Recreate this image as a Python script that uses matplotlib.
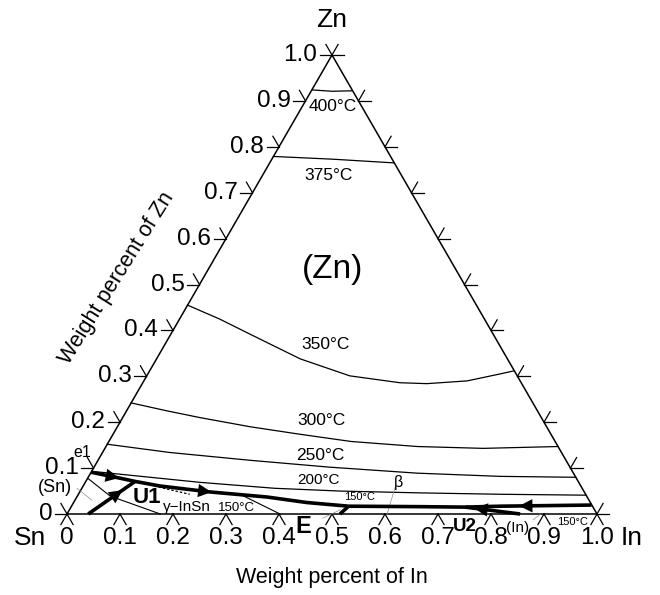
import numpy as np
import matplotlib.pyplot as plt

plt.rcParams['font.family'] = ['Liberation Sans', 'DejaVu Sans']

R3 = np.sqrt(3.)/2.

# ---- data: compositions as (In, Zn) weight fractions ----
TickVals = [0.0, 0.1, 0.2, 0.3, 0.4, 0.5, 0.6, 0.7, 0.8, 0.9, 1.0]
TickLbls = ['0', '0.1', '0.2', '0.3', '0.4', '0.5', '0.6', '0.7', '0.8', '0.9', '1.0']

Iso400 = [(0.0, 0.924), (0.039, 0.921), (0.077, 0.922)]
Iso375 = [(0.0, 0.779), (0.115, 0.773), (0.234, 0.765)]
Iso350 = [(0.0, 0.455), (0.075, 0.425), (0.149, 0.392), (0.271, 0.338),
          (0.383, 0.301), (0.485, 0.286), (0.537, 0.284), (0.610, 0.290),
          (0.664, 0.305), (0.688, 0.312)]
Iso300 = [(0.0, 0.242), (0.075, 0.225), (0.146, 0.210), (0.251, 0.190),
          (0.351, 0.174), (0.457, 0.158), (0.588, 0.147), (0.714, 0.143),
          (0.853, 0.147)]
Iso250 = [(0.0, 0.152), (0.127, 0.134), (0.287, 0.117), (0.445, 0.102),
          (0.616, 0.089), (0.776, 0.082), (0.920, 0.080)]
Iso200 = [(0.0, 0.093), (0.117, 0.080), (0.216, 0.069), (0.364, 0.056),
          (0.490, 0.050), (0.643, 0.046), (0.795, 0.043), (0.959, 0.041)]

# monovariant lines (thick)
E1_U1_E = [(0.0, 0.091), (0.061, 0.078), (0.093, 0.071), (0.145, 0.061),
           (0.246, 0.048), (0.359, 0.037), (0.440, 0.025), (0.523, 0.017)]
InZn_U2_E = [(0.980, 0.0195), (0.808, 0.017), (0.744, 0.015),
             (0.657, 0.016), (0.523, 0.017)]
Base_U1 = [(0.040, 0.0), (0.093, 0.071)]
Base_U2 = [(0.855, 0.0), (0.744, 0.015)]
Base_E = [(0.515, 0.0), (0.523, 0.017)]
U1_dash = [(0.125, 0.063), (0.210, 0.043)]

# phase boundaries (thin)
SnSolvus = [(0.0, 0.078), (0.062, 0.039), (0.176, 0.0)]
GammaBnd = [(0.305, 0.043), (0.402, 0.0)]

# leader lines (grey)
Leaders = [[(-0.009, 0.056), (0.032, 0.030)],
           [(0.590, 0.058), (0.604, 0.0)],
           [(0.487, -0.009), (0.511, 0.009)],
           [(0.886, -0.013), (0.893, 0.0)]]

# arrows: (line, segment, fraction)
Arrows = [(E1_U1_E, 0, 0.75), (E1_U1_E, 3, 0.9), (Base_U1, 0, 0.62),
          (InZn_U2_E, 0, 0.72), (Base_U2, 0, 0.72)]

# labels: text, In, Zn, size, weight
Labels = [('400°C', 0.058, 0.887, 12.5, 'normal'),
          ('375°C', 0.125, 0.738, 12.5, 'normal'),
          ('(Zn)', 0.236, 0.532, 24, 'normal'),
          ('350°C', 0.302, 0.370, 12.5, 'normal'),
          ('300°C', 0.379, 0.2035, 12.5, 'normal'),
          ('250°C', 0.4135, 0.1277, 12.5, 'normal'),
          ('200°C', 0.437, 0.0736, 11, 'normal'),
          ('150°C', 0.534, 0.0368, 8, 'normal'),
          ('β', 0.590, 0.0693, 11.5, 'normal'),
          ('e1', -0.039, 0.134, 11.5, 'normal'),
          ('(Sn)', -0.052, 0.0584, 13, 'normal'),
          ('U1', 0.1325, 0.0368, 16, 'bold'),
          ('γ−InSn', 0.219, 0.0152, 11, 'normal'),
          ('150°C', 0.314, 0.013, 9.5, 'normal'),
          ('E', 0.459, -0.028, 17, 'bold'),
          ('U2', 0.765, -0.028, 13.5, 'bold'),
          ('(In)', 0.866, -0.030, 11, 'normal'),
          ('150°C', 0.962, -0.017, 8, 'normal')]


def Tern(pts):
    pts = np.asarray(pts, float)
    In, Zn = pts[:, 0], pts[:, 1]
    return In + 0.5*Zn, R3*Zn


fig = plt.figure(figsize=(6.6, 5.95), dpi=100)
ax = fig.add_axes([0, 0, 1, 1])
ax.set_xlim(-67/530, (660-67)/530)
ax.set_ylim(-(595-514)/530, 514/530)
ax.axis('off')

# triangle
x, y = Tern([(0, 0), (1, 0), (0, 1), (0, 0)])
ax.plot(x, y, color='k', lw=1.1, solid_joinstyle='miter')

# ticks
TL = 0.023
def Tick(x0, y0, angs):
    for a in angs:
        ax.plot([x0, x0+TL*np.cos(np.radians(a))],
                [y0, y0+TL*np.sin(np.radians(a))], color='k', lw=0.9)

for v, lbl in zip(TickVals, TickLbls):
    x0, y0 = Tern([(0, v)])
    Tick(x0[0], y0[0], (180, 120))
    ax.text(x0[0]-TL-0.005, y0[0], lbl, ha='right', va='center', fontsize=17.5)
    x0, y0 = Tern([(1-v, v)])
    Tick(x0[0], y0[0], (0, 60))
    x0, y0 = Tern([(v, 0)])
    Tick(x0[0], y0[0], (240, 300))
    ax.text(x0[0], -0.045, lbl, ha='center', va='center', fontsize=17.5)

ax.text(-0.070, -0.045, 'Sn', ha='center', va='center', fontsize=19)
ax.text(1.066, -0.045, 'In', ha='center', va='center', fontsize=19)
ax.text(0.5, 0.932, 'Zn', ha='center', va='center', fontsize=19)
ax.text(0.5, -0.119, 'Weight percent of In', ha='center', va='center',
        fontsize=15.5)
ax.text(0.094, 0.445, 'Weight percent of Zn', ha='center', va='center',
        fontsize=15.5, rotation=58)

# isotherms
for iso in (Iso400, Iso375, Iso350, Iso300, Iso250, Iso200):
    ax.plot(*Tern(iso), color='k', lw=0.9)

for ln in (SnSolvus, GammaBnd):
    ax.plot(*Tern(ln), color='k', lw=0.8)
ax.plot(*Tern(U1_dash), color='k', lw=0.9, dashes=(2, 1.5))

for ld in Leaders:
    ax.plot(*Tern(ld), color='0.55', lw=0.5)

for ln in (E1_U1_E, InZn_U2_E, Base_U1, Base_U2, Base_E):
    ax.plot(*Tern(ln), color='k', lw=2.6, solid_capstyle='butt')

for ln, k, f in Arrows:
    xs, ys = Tern(ln)
    xa = xs[k] + f*(xs[k+1]-xs[k])
    ya = ys[k] + f*(ys[k+1]-ys[k])
    dx, dy = xs[k+1]-xs[k], ys[k+1]-ys[k]
    n = np.hypot(dx, dy)
    ax.annotate('', xy=(xa+0.012*dx/n, ya+0.012*dy/n),
                xytext=(xa-0.012*dx/n, ya-0.012*dy/n),
                arrowprops=dict(arrowstyle='-|>', color='k', lw=0,
                                mutation_scale=24, shrinkA=0, shrinkB=0))

for txt, In, Zn, fs, fw in Labels:
    xl, yl = Tern([(In, Zn)])
    ax.text(xl[0], yl[0], txt, ha='center', va='center', fontsize=fs,
            fontweight=fw)

fig.savefig('out.png', dpi=100)
